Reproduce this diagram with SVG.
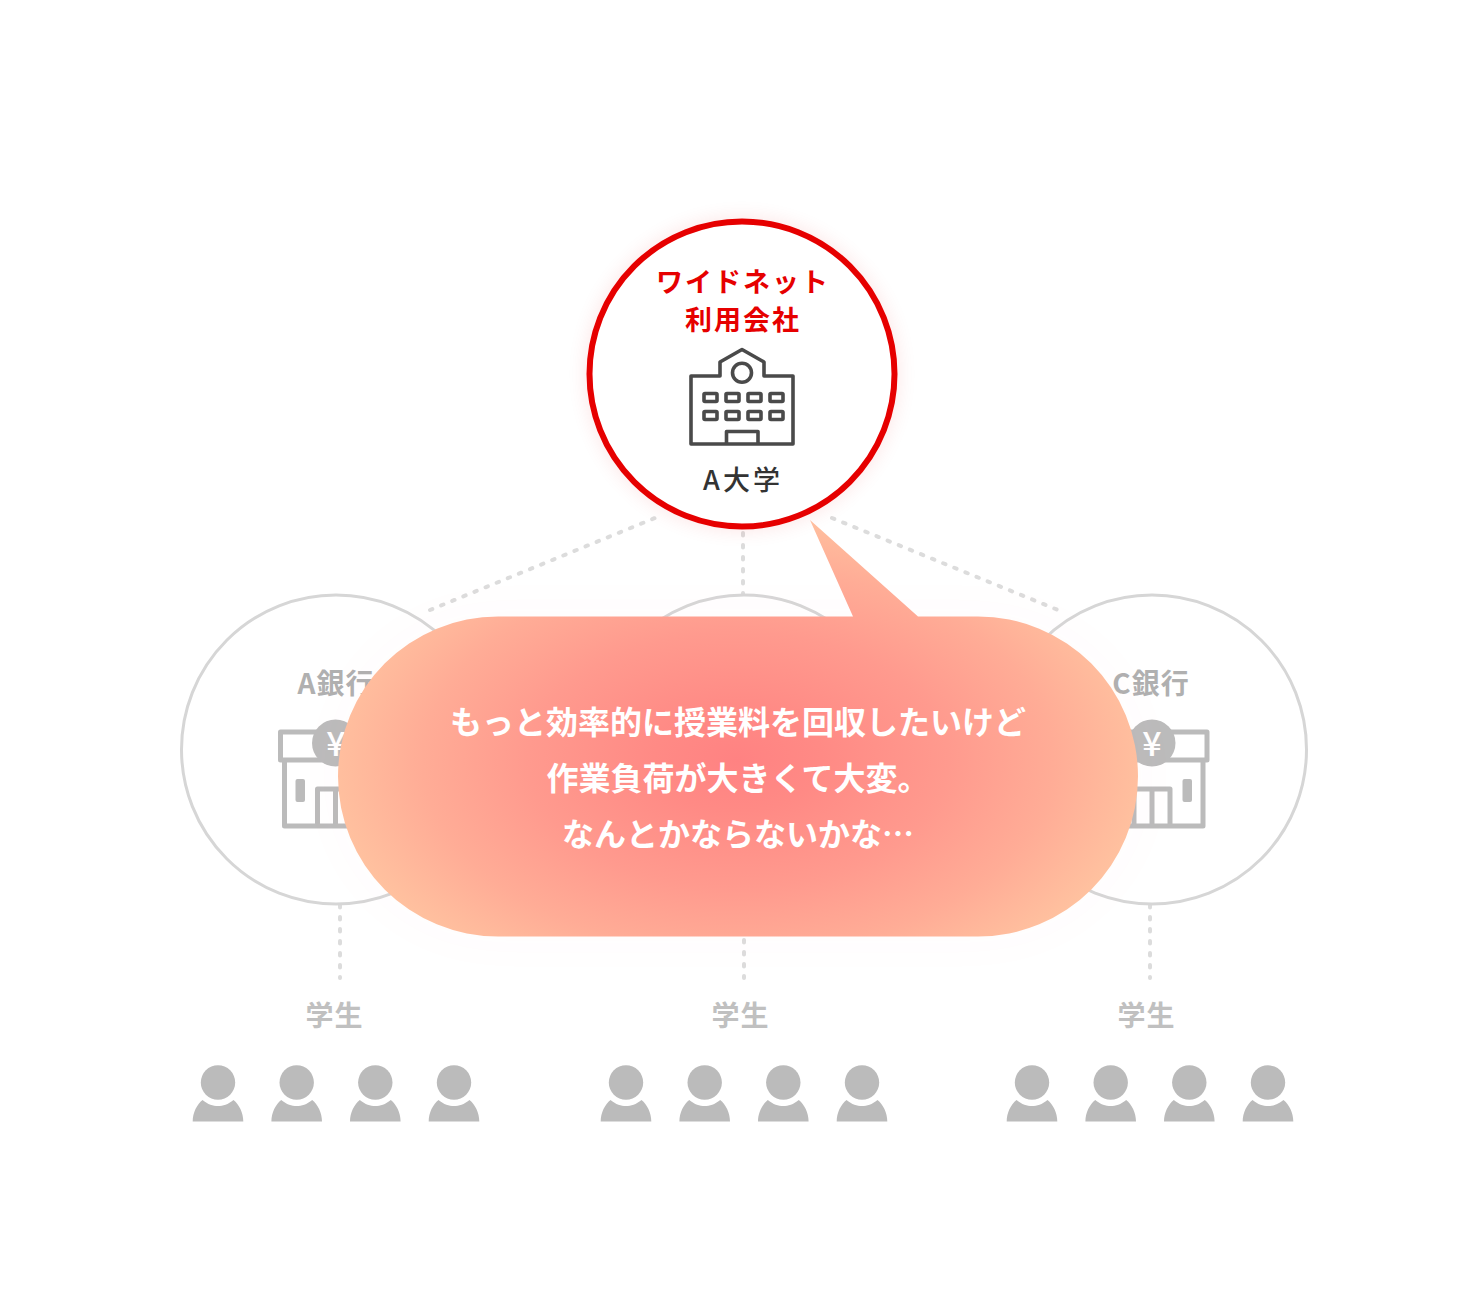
<svg xmlns="http://www.w3.org/2000/svg" width="1480" height="1300" viewBox="0 0 1480 1300">
<style>
text{font-family:"Noto Sans CJK JP","Noto Sans",sans-serif;text-anchor:middle}
.dot{fill:none;stroke:#dcdcdc;stroke-width:4;stroke-linecap:round;stroke-dasharray:2.500 9.500}
.ring{fill:#fff;stroke:#d6d6d6;stroke-width:3}
.bank{font-size:28px;font-weight:700;fill:#b0b0b0;letter-spacing:1px}
.stu{font-size:28px;font-weight:700;fill:#c0c0c0;letter-spacing:1px}
.ic{fill:none;stroke:#bbb;stroke-width:5;stroke-linejoin:round}
.bi{fill:none;stroke:#4a4a4a;stroke-width:3.6;stroke-linejoin:round}
.say{font-size:32px;font-weight:700;fill:#fff}
.red{font-size:27px;font-weight:700;fill:#e60000;letter-spacing:2px}
.yen{font-size:34px;font-weight:500;fill:#fff}
</style>
<defs>
<filter id="glow" x="-20%" y="-20%" width="140%" height="140%"><feGaussianBlur stdDeviation="10"/></filter>
<filter id="soft" x="-20%" y="-30%" width="140%" height="160%"><feGaussianBlur stdDeviation="30"/></filter>
<radialGradient id="grad" gradientUnits="userSpaceOnUse" cx="0" cy="0" r="1" gradientTransform="translate(738 760) scale(420 255)">
<stop offset="0" stop-color="#ff8282"/><stop offset=".2" stop-color="#ff8a85"/><stop offset=".5" stop-color="#ff9a8e"/><stop offset=".75" stop-color="#ffac96"/><stop offset="1" stop-color="#ffc3a0"/>
</radialGradient>
<g id="person"><circle cx="0" cy="0" r="17.2" fill="#bbb"/><path d="M-25.3 39C-25.300 30-21 22-15.500 17.500C-10 22-5 23.500 0 23.500C5 23.500 10 22 15.500 17.500C21 22 25.300 30 25.300 39Z" fill="#bbb"/></g>
<g id="four"><use href="#person"/><use href="#person" x="78.7"/><use href="#person" x="157.3"/><use href="#person" x="236"/></g>
<g id="store">
<rect x="-55" y="-18" width="110" height="28" class="ic"/>
<path d="M-51 10V76H51V10" class="ic"/>
<rect x="-40" y="29" width="9.500" height="23" rx="2" fill="#bbb"/>
<path d="M-18 76V39H18V76M0 39V76" class="ic"/>
<circle cx="0" cy="-7" r="23.5" fill="#bbb"/>
</g>
</defs>
<rect width="1480" height="1300" fill="#fff"/>
<g id="connectors">
<path class="dot" d="M430 610L655 518"/>
<path class="dot" d="M743 533V595"/>
<path class="dot" d="M832 518L1058 610"/>
<path class="dot" d="M340 905V978"/>
<path class="dot" d="M744 940V978"/>
<path class="dot" d="M1150 905V978"/>
</g>
<g id="bank-a">
<circle class="ring" cx="336" cy="749.500" r="154.500"/>
<text class="bank" x="336" y="694">A銀行</text>
<use href="#store" x="335.500" y="750"/>
<text class="yen" x="336" y="756">¥</text>
</g>
<g id="bank-b"><circle class="ring" cx="744" cy="749.500" r="154.500"/></g>
<g id="bank-c">
<circle class="ring" cx="1152" cy="749.500" r="154.500"/>
<text class="bank" x="1151" y="694">C銀行</text>
<use href="#store" transform="translate(1152 750) scale(-1 1)"/>
<text class="yen" x="1152" y="756">¥</text>
</g>
<g id="university">
<circle cx="742" cy="374" r="156" fill="#e60000" opacity=".1" filter="url(#glow)"/>
<circle cx="742" cy="374" r="152.500" fill="#fff" stroke="#e60000" stroke-width="6"/>
<text class="red" x="743" y="292">ワイドネット</text>
<text class="red" x="743" y="330">利用会社</text>
<g id="school-icon">
<path class="bi" d="M691 376H720V362L742 349.500L764 362V376H793V444H691Z"/>
<circle class="bi" cx="742" cy="372.700" r="9.500"/>
<g id="windows">
<rect class="bi" x="704" y="393.500" width="13" height="8" rx="1"/><rect class="bi" x="726" y="393.500" width="13" height="8" rx="1"/><rect class="bi" x="748" y="393.500" width="13" height="8" rx="1"/><rect class="bi" x="770" y="393.500" width="13" height="8" rx="1"/>
<rect class="bi" x="704" y="411.500" width="13" height="8" rx="1"/><rect class="bi" x="726" y="411.500" width="13" height="8" rx="1"/><rect class="bi" x="748" y="411.500" width="13" height="8" rx="1"/><rect class="bi" x="770" y="411.500" width="13" height="8" rx="1"/>
</g>
<path class="bi" d="M726.500 444V431.500H758V444"/>
</g>
<text x="743" y="490" font-size="27" font-weight="500" fill="#333" letter-spacing="3">A大学</text>
</g>
<g id="students-a">
<text class="stu" x="334.500" y="1026">学生</text>
<use href="#four" x="218" y="1082.500"/>
</g>
<g id="students-b">
<text class="stu" x="740.500" y="1026">学生</text>
<use href="#four" x="626" y="1082.500"/>
</g>
<g id="students-c">
<text class="stu" x="1146.500" y="1026">学生</text>
<use href="#four" x="1032" y="1082.500"/>
</g>
<g id="bubble">
<rect x="338" y="616" width="800" height="320" rx="160" fill="#ff5a7a" opacity=".025" filter="url(#soft)"/>
<path fill="url(#grad)" d="M810 520L918 616.500H978A160 160 0 0 1 978 936.500H498A160 160 0 0 1 498 616.500H853Z"/>
<text class="say" x="738" y="734">もっと効率的に授業料を回収したいけど</text>
<text class="say" x="738" y="790">作業負荷が大きくて大変。</text>
<text class="say" x="738" y="846">なんとかならないかな…</text>
</g>
</svg>
